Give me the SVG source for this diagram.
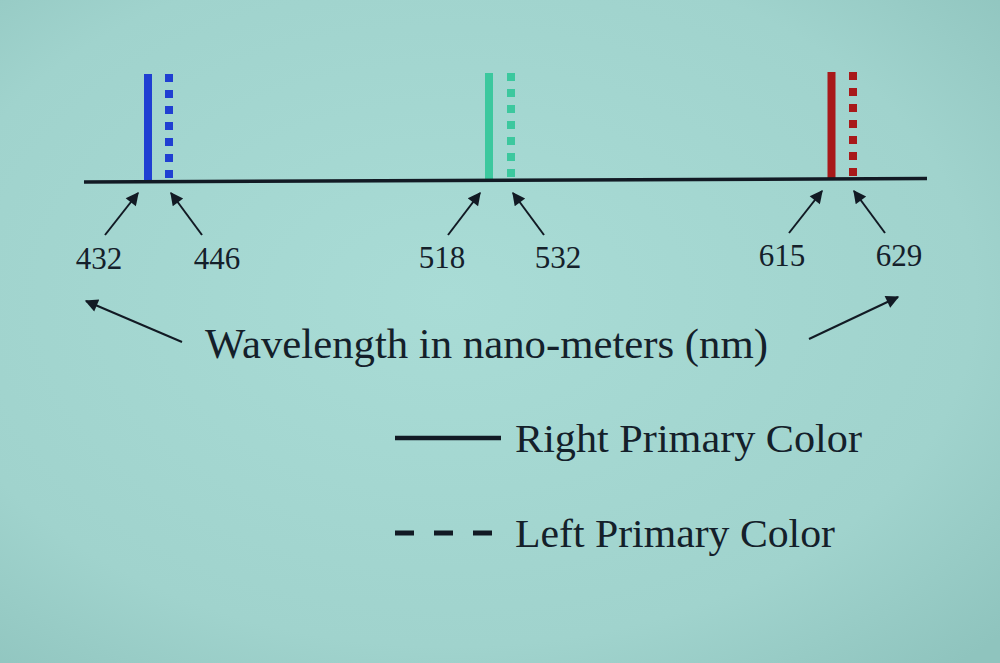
<svg xmlns="http://www.w3.org/2000/svg" width="1000" height="663" viewBox="0 0 1000 663">
<defs>
<radialGradient id="bg" cx="0.45" cy="0.45" r="0.75">
<stop offset="0" stop-color="#a9dcd6"/>
<stop offset="0.7" stop-color="#a0d3cd"/>
<stop offset="1" stop-color="#8fc4be"/>
</radialGradient>
<marker id="ah" viewBox="0 0 10 10" refX="9" refY="5" markerWidth="17" markerHeight="13" markerUnits="userSpaceOnUse" orient="auto">
<path d="M0,0 L10,5 L0,10 z" fill="#121a24"/>
</marker>
<style>
.lbl{font-family:"Liberation Serif","Times New Roman",serif;fill:#14202a;}
.num{font-size:31px;text-anchor:middle;}
.arr{stroke:#121a24;stroke-width:2;fill:none;marker-end:url(#ah);}
.solid{stroke-width:8;}
.dot{stroke-width:8;stroke-dasharray:8 8;}
</style>
</defs>
<rect width="1000" height="663" fill="url(#bg)"/>
<g id="blue">
<line class="solid" x1="148" y1="74" x2="148" y2="181" stroke="#1f3fd2"/>
<line class="dot" x1="169" y1="74" x2="169" y2="182" stroke="#1f3fd2"/>
</g>
<g id="green">
<line class="solid" x1="489" y1="73" x2="489" y2="180" stroke="#3cc89e"/>
<line class="dot" x1="511" y1="73" x2="511" y2="181" stroke="#3cc89e"/>
</g>
<g id="red">
<line class="solid" x1="831.5" y1="72" x2="831.5" y2="179" stroke="#a8191a"/>
<line class="dot" x1="853" y1="72" x2="853" y2="180" stroke="#a8191a"/>
</g>
<g id="axis">
<line x1="84" y1="182" x2="927" y2="178.5" stroke="#121a24" stroke-width="3.5"/>
</g>
<g id="connectors">
<line class="arr" x1="105" y1="235" x2="138" y2="193"/>
<line class="arr" x1="202" y1="235" x2="171" y2="193"/>
<line class="arr" x1="448" y1="235" x2="480" y2="193"/>
<line class="arr" x1="544" y1="235" x2="513" y2="193"/>
<line class="arr" x1="789" y1="233" x2="822" y2="191"/>
<line class="arr" x1="885" y1="233" x2="854" y2="191"/>
<line class="arr" x1="182" y1="342" x2="86" y2="301"/>
<line class="arr" x1="809" y1="339" x2="898" y2="297"/>
</g>
<g id="labels">
<text class="lbl num" x="99" y="269">432</text>
<text class="lbl num" x="217" y="269">446</text>
<text class="lbl num" x="442" y="268">518</text>
<text class="lbl num" x="558" y="268">532</text>
<text class="lbl num" x="782" y="266">615</text>
<text class="lbl num" x="899" y="266">629</text>
<text class="lbl" x="205" y="358" font-size="43" textLength="563" lengthAdjust="spacingAndGlyphs">Wavelength in nano-meters (nm)</text>
</g>
<g id="legend">
<line x1="395" y1="438" x2="501" y2="438" stroke="#121a24" stroke-width="4.5"/>
<text class="lbl" x="515" y="452" font-size="41" textLength="347" lengthAdjust="spacingAndGlyphs">Right Primary Color</text>
<line x1="395" y1="533" x2="495" y2="533" stroke="#121a24" stroke-width="5" stroke-dasharray="19 20"/>
<text class="lbl" x="515" y="547" font-size="41" textLength="320" lengthAdjust="spacingAndGlyphs">Left Primary Color</text>
</g>
</svg>
